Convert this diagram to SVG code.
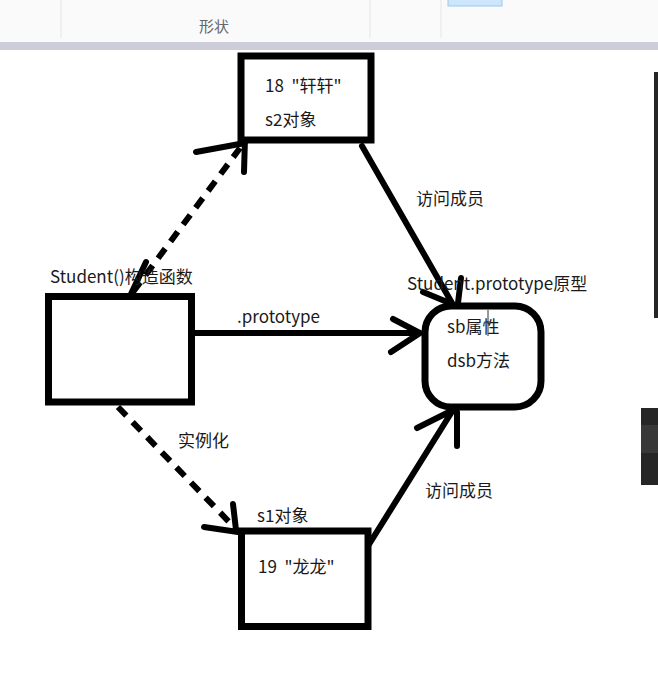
<svg xmlns="http://www.w3.org/2000/svg" width="658" height="682" viewBox="0 0 658 682">
<style>
.t{font-family:"Noto Sans CJK SC","Microsoft YaHei","Liberation Sans",sans-serif;font-size:17px;fill:#1a1a1a}
.box{fill:#fff;stroke:#000;stroke-width:7}
.ln{fill:none;stroke:#000;stroke-width:6;stroke-linecap:round}
.ds{fill:none;stroke:#000;stroke-width:6;stroke-dasharray:12 9}
</style>
<rect x="0" y="0" width="658" height="682" fill="#fff"/>
<g id="toolbar">
<rect x="0" y="0" width="658" height="42" fill="#fafafa"/>
<line x1="61" y1="0" x2="61" y2="38" stroke="#e6e6e6" stroke-width="1"/>
<line x1="370" y1="0" x2="370" y2="38" stroke="#e6e6e6" stroke-width="1"/>
<line x1="441" y1="0" x2="441" y2="38" stroke="#e6e6e6" stroke-width="1"/>
<rect x="448" y="-2" width="54" height="8" fill="#cde6fb" stroke="#9cc8ee" stroke-width="1"/>
<text x="214" y="32" text-anchor="middle" style="font-family:'Noto Sans CJK SC',sans-serif;font-size:15px;fill:#666">形状</text>
<rect x="0" y="42" width="658" height="8" fill="#cdcdd9"/>
</g>
<g id="side">
<rect x="654" y="72" width="4" height="246" fill="#262626"/>
<rect x="641" y="408" width="17" height="77" fill="#262626"/>
<rect x="641" y="425" width="17" height="28" fill="#383838"/>
</g>
<g id="connectors">
<path class="ln" d="M191 333 H420 M393 319 L420 333 L391 352"/>
<path class="ln" d="M362 146 L452 303 M423 292 L452 304 M461 278 L458 303"/>
<path class="ln" d="M368 546 L453 410 M417 428 L453 410 M457 412 V446"/>
<path class="ds" d="M133 292 L240 148"/>
<path class="ln" d="M196 152 L245 143 M244 172 L245 138 M131 294 L146 262"/>
<path class="ds" d="M118 407 L235 528"/>
<path class="ln" d="M204 527 L238 532 M233 504 L236 530"/>
</g>
<g id="s2">
<rect class="box" x="241" y="56" width="130" height="84"/>
<text class="t" x="265" y="92">18&#160;&#160;"轩轩"</text>
<text class="t" x="265" y="126">s2对象</text>
</g>
<g id="student">
<rect class="box" x="48.5" y="296.5" width="143" height="105.5"/>
<text class="t" x="50" y="283">Student()构造函数</text>
</g>
<g id="proto">
<rect class="box" x="425" y="306" width="116" height="101" rx="26"/>
<text class="t" x="407" y="290">Student.prototype原型</text>
<text class="t" x="447" y="333">sb属性</text>
<text class="t" x="447" y="367">dsb方法</text>
<path d="M488 310 V336 M485 322 h6" stroke="#333" stroke-width="1" fill="none"/>
</g>
<g id="s1">
<rect class="box" x="241.5" y="531" width="126.5" height="95.5"/>
<text class="t" x="258" y="573">19&#160;&#160;"龙龙"</text>
<text class="t" x="257" y="522">s1对象</text>
</g>
<g id="labels">
<text class="t" x="237" y="323">.prototype</text>
<text class="t" x="416" y="205">访问成员</text>
<text class="t" x="425" y="497">访问成员</text>
<text class="t" x="178" y="447">实例化</text>
</g>
</svg>
